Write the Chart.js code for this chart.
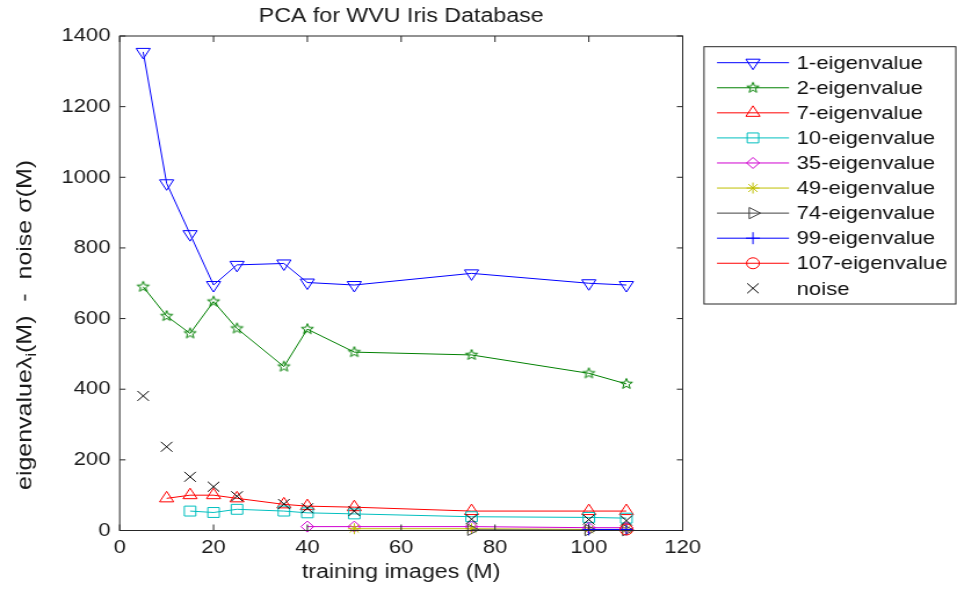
<!DOCTYPE html>
<html>
<head>
<meta charset="utf-8">
<script src="https://cdn.jsdelivr.net/npm/chart.js@4/dist/chart.umd.min.js"></script>
<style>
  html, body { margin: 0; padding: 0; background: #fff; overflow: hidden; }
  #c { display: block; transform: scaleX(1.16); transform-origin: 0 0; }
</style>
</head>
<body>
<canvas id="c" width="825" height="589"></canvas>
<script>
// ---------- data ----------
const trainingImages = [5, 10, 15, 20, 25, 35, 40, 50, 75, 100, 108];
const eig1   = [1355, 983, 839, 695, 752, 756, 702, 695, 728, 700, 695];
const eig2   = [690, 607, 558, 648, 572, 464, 570, 505, 497, 445, 415];
const eig7   = [null, 91, 100, 100, 91, 74, 69, 66, 55, 55, 55];
const eig10  = [null, null, 55, 51, 60, 55, 50, 47, 39, 37, 35];
const eig35  = [null, null, null, null, null, null, 11, 11, 11, 8, 8];
const eig49  = [null, null, null, null, null, null, null, 5, 5, 3, 3];
const eig74  = [null, null, null, null, null, null, null, null, 2, 1, 1];
const eig99  = [null, null, null, null, null, null, null, null, null, 3, 3];
const eig107 = [null, null, null, null, null, null, null, null, null, null, 3];
const noise  = [381, 237, 152, 124, 97, 75, 63, 55, 32, 31, 28];

const seriesLabels = ['1-eigenvalue', '2-eigenvalue', '7-eigenvalue', '10-eigenvalue', '35-eigenvalue',
                      '49-eigenvalue', '74-eigenvalue', '99-eigenvalue', '107-eigenvalue', 'noise'];
const xTicks = [0, 20, 40, 60, 80, 100, 120];
const yTicks = [0, 200, 400, 600, 800, 1000, 1200, 1400];
const chartTitle = 'PCA for WVU Iris Database';
const xTitle = 'training images (M)';

Chart.defaults.font.family = '"Liberation Sans", Arial, Helvetica, sans-serif';
Chart.defaults.color = '#1a1a1a';

function makePentagram(color, r) {
  const size = Math.ceil(2 * r + 3);
  const c = document.createElement('canvas');
  c.width = size; c.height = size;
  const g = c.getContext('2d');
  g.strokeStyle = color; g.lineWidth = 1;
  g.beginPath();
  for (let k = 0; k < 10; k++) {
    const ang = -Math.PI / 2 + k * Math.PI / 5;
    const rr = k % 2 === 0 ? r : r * 0.42;
    const px = size / 2 + rr * Math.cos(ang), py = size / 2 + rr * Math.sin(ang);
    if (k === 0) g.moveTo(px, py); else g.lineTo(px, py);
  }
  g.closePath(); g.stroke();
  return c;
}

const styles = [
  { color: '#0000ff', pointStyle: 'triangle', rotation: 180, radius: 7 },
  { color: '#008000', pointStyle: makePentagram('#008000', 5.5), rotation: 0, radius: 6 },
  { color: '#ff0000', pointStyle: 'triangle', rotation: 0, radius: 7 },
  { color: '#00bfbf', pointStyle: 'rect', rotation: 0, radius: 7 },
  { color: '#d000d0', pointStyle: 'rectRot', rotation: 0, radius: 5.5 },
  { color: '#bfbf00', pointStyle: 'star', rotation: 0, radius: 5.5 },
  { color: '#404040', pointStyle: 'triangle', rotation: 90, radius: 6.5 },
  { color: '#0000ff', pointStyle: 'cross', rotation: 0, radius: 6 },
  { color: '#ff0000', pointStyle: 'circle', rotation: 0, radius: 5.5 },
  { color: '#000000', pointStyle: 'crossRot', rotation: 0, radius: 7, noLine: true }
];
const allSeries = [eig1, eig2, eig7, eig10, eig35, eig49, eig74, eig99, eig107, noise];

const datasets = allSeries.map((vals, i) => {
  const s = styles[i];
  return {
    label: seriesLabels[i],
    data: trainingImages.map((x, j) => ({ x: x, y: vals[j] })),
    borderColor: s.color,
    backgroundColor: 'rgba(0,0,0,0)',
    pointBackgroundColor: 'rgba(0,0,0,0)',
    pointBorderColor: s.color,
    pointStyle: s.pointStyle,
    rotation: s.rotation,
    pointRadius: s.radius,
    pointBorderWidth: 1,
    borderWidth: 1,
    showLine: !s.noLine,
    tension: 0,
    clip: false,
    order: 10 - i
  };
});

function drawMarker(ctx, s, x, y) {
  ctx.save();
  ctx.strokeStyle = s.color;
  ctx.fillStyle = 'rgba(0,0,0,0)';
  ctx.lineWidth = 1;
  if (Chart.helpers && Chart.helpers.drawPoint) {
    Chart.helpers.drawPoint(ctx, { pointStyle: s.pointStyle, rotation: s.rotation, radius: s.radius, borderWidth: 1 }, x, y);
  }
  ctx.restore();
}

const decorPlugin = {
  id: 'decor',
  afterDraw(chart) {
    const ctx = chart.ctx;
    const { left, right, top, bottom } = chart.chartArea;
    const xs = chart.scales.x, ys = chart.scales.y;
    ctx.save();
    // axes box
    ctx.strokeStyle = '#262626';
    ctx.lineWidth = 1;
    ctx.strokeRect(left, top, right - left, bottom - top);
    ctx.beginPath();
    xTicks.forEach(v => {
      const px = xs.getPixelForValue(v);
      ctx.moveTo(px, bottom); ctx.lineTo(px, bottom - 6);
      ctx.moveTo(px, top); ctx.lineTo(px, top + 6);
    });
    yTicks.forEach(v => {
      const py = ys.getPixelForValue(v);
      ctx.moveTo(left, py); ctx.lineTo(left + 5, py);
      ctx.moveTo(right, py); ctx.lineTo(right - 5, py);
    });
    ctx.stroke();

    // legend
    const L = { x0: 606.9, y0: 46.7, x1: 824, y1: 304 };
    ctx.fillStyle = '#ffffff';
    ctx.fillRect(L.x0, L.y0, L.x1 - L.x0, L.y1 - L.y0);
    ctx.strokeStyle = '#262626';
    ctx.strokeRect(L.x0, L.y0, L.x1 - L.x0, L.y1 - L.y0);
    ctx.font = '19px "Liberation Sans", Arial, sans-serif';
    ctx.textBaseline = 'middle';
    ctx.textAlign = 'left';
    seriesLabels.forEach((lab, i) => {
      const s = styles[i];
      const y = 62.7 + i * 25.07;
      if (!s.noLine) {
        ctx.strokeStyle = s.color;
        ctx.lineWidth = 1;
        ctx.beginPath(); ctx.moveTo(618.1, y); ctx.lineTo(680.2, y); ctx.stroke();
      }
      drawMarker(ctx, s, 649.1, y);
      ctx.fillStyle = '#111111';
      ctx.fillText(lab, 686.8, y + 1);
    });

    // y axis label with subscript
    ctx.save();
    ctx.translate(22, 325);
    ctx.rotate(-Math.PI / 2);
    const f = '19px "Liberation Sans", Arial, sans-serif';
    const fs = '13px "Liberation Sans", Arial, sans-serif';
    const p1 = 'eigenvalue\u03bb', p2 = 'i', p3 = '(M)  -  noise \u03c3(M)';
    ctx.font = f; const w1 = ctx.measureText(p1).width, w3 = ctx.measureText(p3).width;
    ctx.font = fs; const w2 = ctx.measureText(p2).width;
    const total = w1 + w2 + w3;
    const target = 330;
    ctx.scale(target / total, 1);
    ctx.fillStyle = '#1a1a1a';
    ctx.textBaseline = 'middle';
    let x0 = -total / 2;
    ctx.font = f; ctx.fillText(p1, x0, 0);
    ctx.font = fs; ctx.fillText(p2, x0 + w1, 5);
    ctx.font = f; ctx.fillText(p3, x0 + w1 + w2, 0);
    ctx.restore();

    ctx.restore();
  }
};

new Chart(document.getElementById('c'), {
  type: 'line',
  data: { datasets: datasets },
  plugins: [decorPlugin],
  options: {
    responsive: false,
    animation: false,
    devicePixelRatio: 1,
    layout: { padding: { left: 0, right: 236.5, top: 0, bottom: 0 } },
    plugins: {
      legend: { display: false },
      tooltip: { enabled: false },
      title: {
        display: true, text: chartTitle, fullSize: false,
        font: { size: 20, weight: 'normal' }, color: '#1a1a1a',
        padding: { top: 4, bottom: 8 }
      }
    },
    scales: {
      x: {
        type: 'linear', min: 0, max: 120,
        afterBuildTicks: s => { s.ticks = xTicks.map(v => ({ value: v })); },
        afterFit: s => { s.height = 58.5; },
        grid: { display: false, drawTicks: false },
        border: { display: false },
        ticks: { padding: 6, font: { size: 19 }, color: '#1a1a1a', maxRotation: 0, autoSkip: false,
                 callback: v => String(v) },
        title: { display: true, text: xTitle, font: { size: 20 }, color: '#1a1a1a', padding: { top: 4, bottom: 5 } }
      },
      y: {
        type: 'linear', min: 0, max: 1400,
        afterBuildTicks: s => { s.ticks = yTicks.map(v => ({ value: v })); },
        afterFit: s => { s.width = 103.2; },
        grid: { display: false, drawTicks: false },
        border: { display: false },
        ticks: { padding: 8, font: { size: 19 }, color: '#1a1a1a', autoSkip: false,
                 callback: v => String(v) }
      }
    }
  }
});
</script>
</body>
</html>
